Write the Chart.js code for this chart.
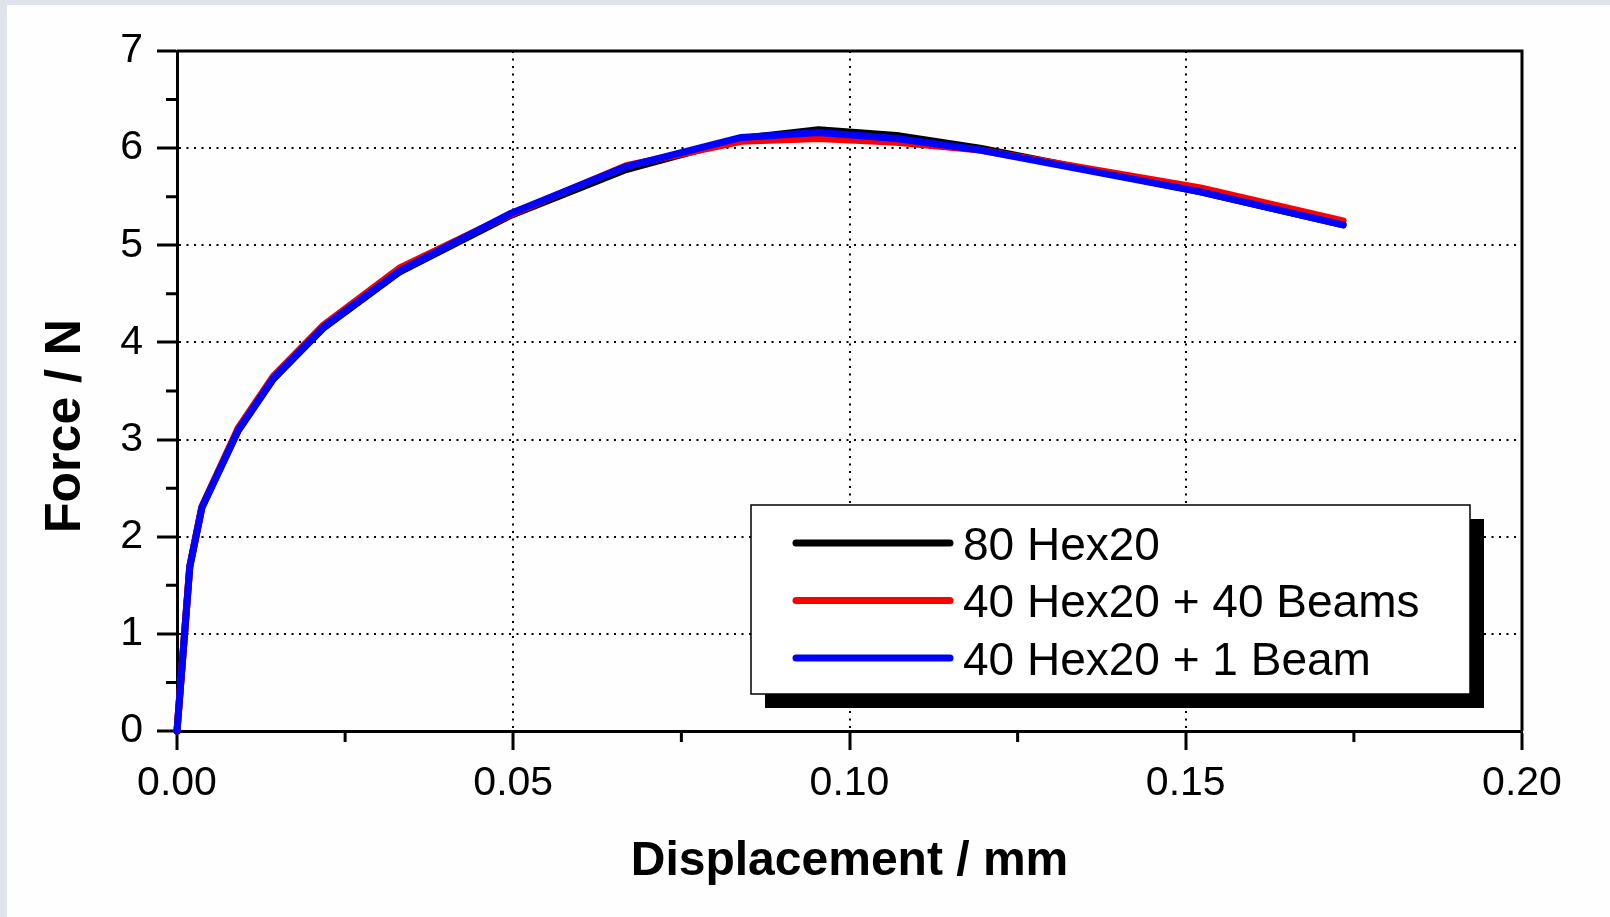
<!DOCTYPE html>
<html lang="en">
  <head>
    <meta charset="UTF-8" />
    <meta name="viewport" content="width=device-width, initial-scale=1.0" />
    <script src="https://cdn.jsdelivr.net/npm/chart.js@4.4.1/dist/chart.umd.min.js"></script>
    <title>Force / displacement</title>
    <style>
      html, body { margin: 0; padding: 0; background: #fff; }
      canvas { display: block; }
    </style>
  </head>
  <body>
    <canvas id="chart" width="1610" height="917"></canvas>
    <script>
      // values
      const displacement = [0, 0.0019, 0.0037, 0.0091, 0.0143, 0.0218, 0.0332, 0.0497, 0.0668, 0.0839, 0.0954, 0.107, 0.1194, 0.1522, 0.1734];
      const hex80 = [0, 1.69, 2.30, 3.09, 3.62, 4.15, 4.73, 5.31, 5.78, 6.10, 6.19, 6.13, 6.00, 5.55, 5.21];
      const hex40beams40 = [0, 1.70, 2.31, 3.12, 3.65, 4.18, 4.77, 5.32, 5.82, 6.07, 6.10, 6.06, 5.98, 5.59, 5.25];
      const hex40beam1 = [0, 1.69, 2.30, 3.10, 3.63, 4.16, 4.74, 5.33, 5.81, 6.11, 6.16, 6.10, 5.98, 5.55, 5.21];

      const seriesNames = ["80 Hex20", "40 Hex20 + 40 Beams", "40 Hex20 + 1 Beam"];
      const seriesColors = ["#000000", "#ff0000", "#0000ff"];
      const xTicks = [0, 0.05, 0.1, 0.15, 0.2];
      const xMinor = [0.025, 0.075, 0.125, 0.175];
      const yTicks = [0, 1, 2, 3, 4, 5, 6, 7];
      const yMinor = [0.5, 1.5, 2.5, 3.5, 4.5, 5.5, 6.5];
      const xTitle = "Displacement / mm";
      const yTitle = "Force / N";

      const FONT = "'Liberation Sans', Arial, sans-serif";

      function points(ys) {
        return displacement.map((x, i) => ({ x: x, y: ys[i] }));
      }

      // page background, frame, minor ticks, titles and the boxed legend
      const extras = {
        id: "extras",
        beforeDraw(chart) {
          const ctx = chart.ctx;
          ctx.save();
          ctx.fillStyle = "#dfe3ea";
          ctx.fillRect(0, 0, chart.width, chart.height);
          ctx.fillStyle = "#fefefe";
          ctx.fillRect(7, 5, chart.width - 7, chart.height - 5);
          ctx.restore();
        },
        afterDatasetsDraw(chart) {
          const ctx = chart.ctx;
          const a = chart.chartArea;
          const xs = chart.scales.x;
          const ys = chart.scales.y;
          ctx.save();

          // top and right side of the box
          ctx.strokeStyle = "#000";
          ctx.lineWidth = 3;
          ctx.beginPath();
          ctx.moveTo(a.left, a.top);
          ctx.lineTo(a.right, a.top);
          ctx.lineTo(a.right, a.bottom);
          ctx.stroke();

          // minor ticks
          ctx.beginPath();
          yMinor.forEach(v => {
            const p = ys.getPixelForValue(v);
            ctx.moveTo(a.left, p);
            ctx.lineTo(a.left - 11, p);
          });
          xMinor.forEach(v => {
            const p = xs.getPixelForValue(v);
            ctx.moveTo(p, a.bottom);
            ctx.lineTo(p, a.bottom + 11);
          });
          ctx.stroke();

          // legend
          const lx = 751, ly = 505, lw = 719, lh = 189;
          ctx.fillStyle = "#000";
          ctx.fillRect(lx + 14, ly + 14, lw, lh);
          ctx.fillStyle = "#fff";
          ctx.fillRect(lx, ly, lw, lh);
          ctx.lineWidth = 1.5;
          ctx.strokeRect(lx, ly, lw, lh);
          ctx.font = "46px " + FONT;
          ctx.textAlign = "left";
          ctx.textBaseline = "alphabetic";
          chart.data.datasets.forEach((ds, i) => {
            const y = ly + 38 + i * 57.5;
            ctx.strokeStyle = ds.borderColor;
            ctx.lineWidth = 7;
            ctx.lineCap = "round";
            ctx.beginPath();
            ctx.moveTo(796, y);
            ctx.lineTo(950, y);
            ctx.stroke();
            ctx.fillStyle = "#000";
            ctx.fillText(ds.label, 963, y + 16.5);
          });

          // axis titles
          ctx.fillStyle = "#000";
          ctx.font = "bold 48px " + FONT;
          ctx.textAlign = "center";
          ctx.fillText(xTitle, (a.left + a.right) / 2, 875);
          ctx.translate(80, 426);
          ctx.rotate(-Math.PI / 2);
          ctx.font = "bold 50px " + FONT;
          ctx.fillText(yTitle, 0, 0);
          ctx.restore();
        }
      };

      new Chart(document.getElementById("chart"), {
        type: "line",
        data: {
          datasets: [
            { label: seriesNames[0], data: points(hex80), borderColor: seriesColors[0], order: 2 },
            { label: seriesNames[1], data: points(hex40beams40), borderColor: seriesColors[1], order: 1 },
            { label: seriesNames[2], data: points(hex40beam1), borderColor: seriesColors[2], order: 0 }
          ]
        },
        options: {
          responsive: false,
          animation: false,
          clip: false,
          layout: { padding: { left: 0, top: 51, right: 88, bottom: 0 } },
          elements: {
            line: { borderWidth: 7, tension: 0, borderCapStyle: "round", borderJoinStyle: "round", fill: false },
            point: { radius: 0, hoverRadius: 0 }
          },
          plugins: { legend: { display: false }, tooltip: { enabled: false } },
          scales: {
            x: {
              type: "linear",
              min: 0,
              max: 0.2,
              afterBuildTicks: s => { s.ticks = xTicks.map(v => ({ value: v })); },
              afterFit: s => { s.height = 186; },
              ticks: {
                color: "#000",
                font: { family: FONT, size: 41 },
                padding: 9,
                maxRotation: 0,
                callback: v => v.toFixed(2)
              },
              grid: { color: "#000", lineWidth: 2, tickLength: 19, tickWidth: 3, tickColor: "#000" },
              border: { color: "#000", width: 3, dash: [2, 5.5] }
            },
            y: {
              min: 0,
              max: 7,
              afterBuildTicks: s => { s.ticks = yTicks.map(v => ({ value: v })); },
              afterFit: s => { s.width = 177; },
              ticks: {
                color: "#000",
                font: { family: FONT, size: 41 },
                padding: 14
              },
              grid: { color: "#000", lineWidth: 2, tickLength: 20, tickWidth: 3, tickColor: "#000" },
              border: { color: "#000", width: 3, dash: [2, 5.5] }
            }
          }
        },
        plugins: [extras]
      });
    </script>
  </body>
</html>
